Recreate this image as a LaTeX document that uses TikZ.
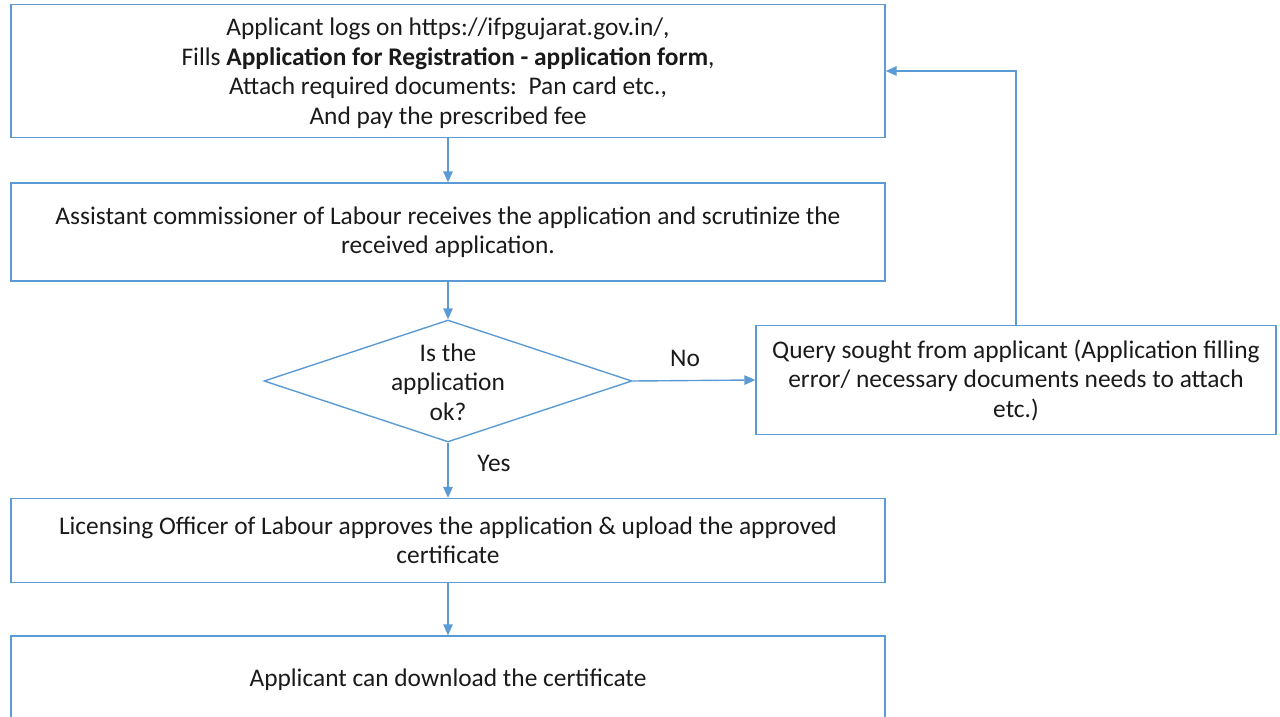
\documentclass[tikz,border=0pt]{standalone}
\usepackage{fontspec}
\setmainfont{Carlito}
\usetikzlibrary{shapes.geometric,arrows.meta}
\definecolor{lineblue}{HTML}{5B9BD5}
\definecolor{txt}{HTML}{1A1A1A}
\begin{document}
\begin{tikzpicture}[x=1pt,y=-1pt,
  every node/.style={text=txt},
  box/.style={draw=lineblue, line width=1.4pt, rectangle, inner sep=0pt, align=center,
    font=\fontsize{25.4}{29.5}\selectfont},
  dec/.style={draw=lineblue, line width=1.4pt, diamond, inner sep=0pt},
  arr/.style={draw=lineblue, line width=1.4pt, -{Triangle[width=9.5pt,length=11pt]}},
  lbl/.style={font=\fontsize{25.4}{29.5}\selectfont, inner sep=0pt}]
\useasboundingbox (0,0) rectangle (1280,717);
\clip (0,0) rectangle (1280,717);
\node[box, minimum width=874pt, minimum height=133pt] (b1) at (448,71)
  {\raisebox{-3pt}[\height][\depth]{\begin{tabular}{@{}c@{}}
   Applicant logs on https://ifpgujarat.gov.in/,\\
   Fills \textbf{Application for Registration - application form},\\
   Attach required documents:\ \ Pan card etc.,\\
   And pay the prescribed fee\end{tabular}}};
\node[box, minimum width=874pt, minimum height=98pt] (b2) at (448,232)
  {Assistant commissioner of Labour receives the application and scrutinize the\\
   received application.};
\node[dec, minimum width=368pt, minimum height=122pt,
  label={[lbl, align=center, yshift=-1pt]center:Is the\\application\\ok?}] (d) at (448,381) {};
\node[box, minimum width=520pt, minimum height=109pt] (q) at (1016,380)
  {Query sought from applicant (Application filling\\
   error/ necessary documents needs to attach\\
   etc.)};
\node[box, minimum width=874pt, minimum height=84pt] (b3) at (448,540.5)
  {Licensing Officer of Labour approves the application \& upload the approved\\
   certificate};
\node[box, minimum width=874pt, minimum height=88pt] (b4) at (448,680)
  {Applicant can download the certificate};
\draw[arr] (b1.south) -- (b2.north);
\draw[arr] (b2.south) -- (d.north);
\draw[arr] (d.east) -- (q.west);
\draw[arr] (d.south) -- (b3.north);
\draw[arr] (b3.south) -- (b4.north);
\draw[arr] (q.north) |- (b1.east);
\node[lbl] (no) at (685,358) {No};
\node[lbl] (yes) at (494,463) {Yes};
\end{tikzpicture}
\end{document}
